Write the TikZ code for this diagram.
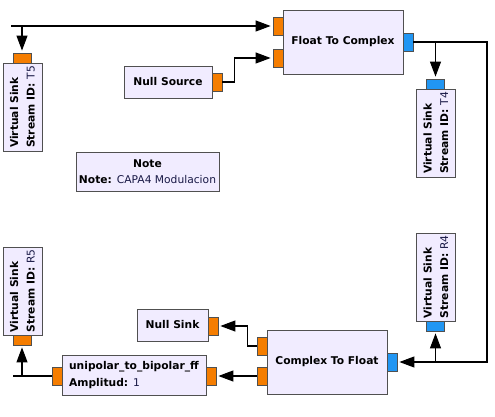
\documentclass[tikz,border=0pt]{standalone}
\usepackage{fontspec}
\setmainfont{DejaVu Sans}
\usetikzlibrary{arrows.meta}
\definecolor{boxfill}{RGB}{241,236,255}
\definecolor{boxline}{RGB}{80,80,80}
\definecolor{portorange}{RGB}{245,125,0}
\definecolor{portblue}{RGB}{33,150,243}
\definecolor{valcol}{RGB}{25,25,70}
\begin{document}
\begin{tikzpicture}[x=1pt,y=-1pt,
    block/.style={draw=boxline,fill=boxfill,line width=0.9pt,inner sep=0pt,
      font=\fontsize{10.7}{16.5}\selectfont\bfseries},
    oport/.style={draw=boxline,fill=portorange,line width=0.8pt,inner sep=0pt},
    bport/.style={draw=boxline,fill=portblue,line width=0.8pt,inner sep=0pt},
    hport/.style={minimum width=10pt,minimum height=18pt},
    vport/.style={minimum width=18pt,minimum height=10pt},
    link/.style={line width=1.1pt},
    arr/.style={link,-{Triangle[length=15pt,width=11pt]},shorten >=2pt}]
    \useasboundingbox (0,0) rectangle (495,417);

    % Float To Complex
    \node[block,minimum width=120pt,minimum height=64pt] (f2c) at (343,42) {Float To Complex};
    \node[oport,hport] (f2cin1) at (278,26) {};
    \node[oport,hport] (f2cin2) at (278,58) {};
    \node[bport,hport] (f2cout) at (408,42) {};

    % Null Source
    \node[block,minimum width=88pt,minimum height=32pt] (nsrc) at (168,82) {Null Source};
    \node[oport,hport] (nsrcout) at (217,82) {};

    % Virtual Sinks
    \node[block,rotate=90,minimum width=88pt,minimum height=39pt,align=left] (vst5) at (22.5,107)
      {Virtual Sink\\Stream ID: {\mdseries\color{valcol}T5}};
    \node[oport,vport] (vst5in) at (22,58) {};
    \node[block,rotate=90,minimum width=88pt,minimum height=39pt,align=left] (vst4) at (436,133)
      {Virtual Sink\\Stream ID: {\mdseries\color{valcol}T4}};
    \node[bport,vport] (vst4in) at (435.5,84) {};
    \node[block,rotate=90,minimum width=88pt,minimum height=39pt,align=left] (vsr5) at (22.5,291)
      {Virtual Sink\\Stream ID: {\mdseries\color{valcol}R5}};
    \node[oport,vport] (vsr5in) at (22,340) {};
    \node[block,rotate=90,minimum width=88pt,minimum height=39pt,align=left] (vsr4) at (436,277)
      {Virtual Sink\\Stream ID: {\mdseries\color{valcol}R4}};
    \node[bport,vport] (vsr4in) at (435.5,326) {};

    % Note
    \node[block,minimum width=143pt,minimum height=39pt,align=center] (note) at (147.5,171.5)
      {Note\\Note: {\mdseries\color{valcol}CAPA4 Modulacion}};

    % Complex To Float (flipped)
    \node[block,minimum width=120pt,minimum height=64pt] (c2f) at (327,362) {Complex To Float};
    \node[oport,hport] (c2fout1) at (262,346) {};
    \node[oport,hport] (c2fout2) at (262,376) {};
    \node[bport,hport] (c2fin) at (392,362) {};

    % Null Sink
    \node[block,minimum width=71pt,minimum height=32pt] (nsink) at (172.5,325) {Null Sink};
    \node[oport,hport] (nsinkin) at (213,326) {};

    % unipolar_to_bipolar_ff (flipped)
    \node[block,minimum width=144pt,minimum height=40pt,align=left] (u2b) at (134,375)
      {unipolar\_to\_bipolar\_ff\\Amplitud: {\mdseries\color{valcol}1}};
    \node[oport,hport] (u2bin) at (211,376) {};
    \node[oport,hport] (u2bout) at (57,376) {};

    % free ends of the cut lines
    \coordinate (srct) at (11,26);
    \coordinate (dstb) at (13,376);

    % connections
    \draw[arr] (srct) -- (f2cin1.west);
    \draw[arr] (vst5in.north |- srct) -- (vst5in.north);
    \draw[arr] (nsrcout.east) -- ++(12,0) |- (f2cin2.west);
    \draw[arr] (f2cout.east) -- (487,42) |- (c2fin.east);
    \draw[arr] (vst4in.north |- f2cout) -- (vst4in.north);
    \draw[arr] (vsr4in.south |- c2fin) -- (vsr4in.south);
    \draw[arr] (c2fout1.west) -- ++(-9,0) |- (nsinkin.east);
    \draw[arr] (c2fout2.west) -- (u2bin.east);
    \draw[link] (u2bout.west) -- (dstb);
    \draw[arr] (vsr5in.south |- u2bout) -- (vsr5in.south);
\end{tikzpicture}
\end{document}
